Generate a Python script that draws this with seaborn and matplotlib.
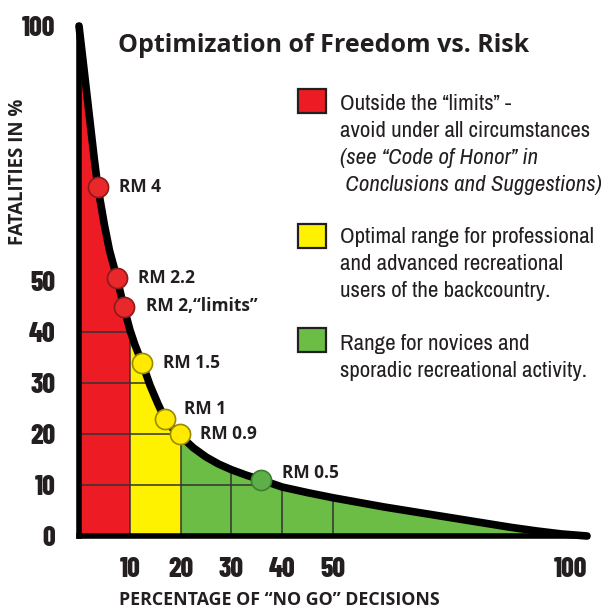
import numpy as np
import pandas as pd
import matplotlib.pyplot as plt
import seaborn as sns
from matplotlib.patches import Rectangle

# curve
no_go = [0, 1, 2, 3, 3.7, 5, 6, 7.5, 8.8, 10, 11, 12.4, 14, 15.5, 16.9, 18.5, 20,
         22.5, 25, 27.5, 30, 33, 35.9, 40, 45, 50, 55, 60, 65, 70, 75, 80, 85, 90, 95, 100]
fatalities = [100, 91.4, 82.7, 74, 68.5, 61, 56, 50.5, 45, 40.5, 37.5, 34, 29.5, 26, 23, 21, 19.6,
              17.3, 15.5, 14.1, 13, 11.9, 11, 9.6, 8.5, 7.5, 6.6, 5.7, 4.9, 4.1, 3.3, 2.5, 1.7, 1.0, 0.4, 0]

# RM points
rm_labels = ["RM 4", "RM 2.2", "RM 2,\u201climits\u201d", "RM 1.5", "RM 1", "RM 0.9", "RM 0.5"]
rm_x = [3.7, 7.5, 8.8, 12.4, 16.9, 19.8, 35.9]
rm_y = [68.5, 50.5, 45, 34, 23, 20, 11]
rm_zone = ["red", "red", "red", "yellow", "yellow", "yellow", "green"]

x_ticks = [10, 20, 30, 40, 50, 100]
y_ticks = [0, 10, 20, 30, 40, 50, 100]

legend_lines = {
    "red": ["Outside the \u201climits\u201d -", "avoid under all circumstances",
            "(see \u201cCode of Honor\u201d in", " Conclusions and Suggestions)"],
    "yellow": ["Optimal range for professional", "and advanced recreational",
               "users of the backcountry."],
    "green": ["Range for novices and", "sporadic recreational activity."],
}

fill_col = {"red": "#ED1C24", "yellow": "#FFF200", "green": "#6BBD45"}
dot_col = {"red": "#E8282B", "yellow": "#FFEA00", "green": "#5DAF47"}
dot_edge = {"red": "#8B1A1A", "yellow": "#9A8A00", "green": "#3F7F32"}

narrow = ["Archivo Narrow", "DejaVu Sans"]
tickfont = ["Barlow Condensed", "DejaVu Sans"]
dark = "#231F20"

df = pd.DataFrame({"no_go": no_go, "fatalities": fatalities})
pts = pd.DataFrame({"x": rm_x, "y": rm_y, "zone": rm_zone, "label": rm_labels})

sns.set_style("white")
fig = plt.figure(figsize=(6.01, 6.08), dpi=100)
W, H = 601, 608
ax = fig.add_axes([79 / W, 1 - 536 / H, (587 - 79) / W, (536 - 26) / H])

x = df["no_go"].to_numpy()
y = df["fatalities"].to_numpy()
ax.fill_between(x, y, where=x <= 10, color=fill_col["red"], lw=0)
ax.fill_between(x, y, where=(x >= 10) & (x <= 20), color=fill_col["yellow"], lw=0)
ax.fill_between(x, y, where=x >= 20, color=fill_col["green"], lw=0)

# inner grid, only under the curve
for gy in [10, 20, 30, 40]:
    gx = np.interp(gy, y[::-1], x[::-1])
    ax.plot([0, gx], [gy, gy], color="#333333", lw=1.3, alpha=0.85, zorder=2)
for gx in [10, 20, 30, 40, 50]:
    gy = np.interp(gx, x, y)
    ax.plot([gx, gx], [0, gy], color="#333333", lw=1.3, alpha=0.85, zorder=2)

sns.lineplot(data=df, x="no_go", y="fatalities", color="black", lw=5.5,
             ax=ax, zorder=3, clip_on=False, solid_capstyle="round")

for zone in ["red", "yellow", "green"]:
    sub = pts[pts["zone"] == zone]
    sns.scatterplot(data=sub, x="x", y="y", color=dot_col[zone], edgecolor=dot_edge[zone],
                    linewidth=1.2, s=210, ax=ax, zorder=4, clip_on=False)

offsets = [(15, 0), (15, 0), (16, 0), (15, 0), (14, 7), (15, 0), (15, 5)]
for (_, r), off in zip(pts.iterrows(), offsets):
    ax.annotate(r["label"], (r["x"], r["y"]), xytext=off, textcoords="offset points",
                ha="left", va="center", fontsize=12.5, fontweight="bold",
                family="Open Sans", color=dark, zorder=5)

ax.set_xlim(0, 100)
ax.set_ylim(0, 100)
for s in ["top", "right"]:
    ax.spines[s].set_visible(False)
for s in ["left", "bottom"]:
    ax.spines[s].set_linewidth(4)
    ax.spines[s].set_color("black")
    ax.spines[s].set_zorder(3)

ax.set_xticks(x_ticks)
ax.set_yticks(y_ticks)
ax.set_xticklabels([str(t) for t in x_ticks], family=tickfont, fontweight=800,
                   fontsize=20, color=dark)
ax.set_yticklabels([str(t) for t in y_ticks], family=tickfont, fontweight=800,
                   fontsize=20, color=dark)
ax.xaxis.get_majorticklabels()[-1].set_ha("right")
ax.tick_params(axis="x", length=10, width=1.5, color="#555555", pad=5, direction="out")
ax.tick_params(axis="y", length=9, width=1.5, color="#555555", pad=8, direction="out")
ax.xaxis.get_major_ticks()[-1].tick1line.set_visible(False)
yt = ax.yaxis.get_major_ticks()
yt[0].tick1line.set_visible(False)
yt[5].tick1line.set_visible(False)
yt[6].tick1line.set_color(dark)

ax.set_xlabel("PERCENTAGE OF \u201cNO GO\u201d DECISIONS", family="Open Sans",
              fontweight="bold", fontsize=12.8, color=dark, va="center")
ax.set_ylabel("FATALITIES IN %", family="Open Sans", fontweight="bold",
              fontsize=13.5, color=dark, va="center")
ax.xaxis.set_label_coords((279 - 79) / (587 - 79), -(600 - 536) / (536 - 26))
ax.yaxis.set_label_coords(-(79 - 18) / (587 - 79), (536 - 172) / (536 - 26))

fig.text(118 / W, 1 - 52 / H, "Optimization of Freedom vs. Risk", family="Open Sans",
         fontweight="bold", fontsize=18, color=dark, va="baseline")

# legend
box_top = {"red": 89, "yellow": 224, "green": 328}
first_base = {"red": 110, "yellow": 243, "green": 350}
for zone in ["red", "yellow", "green"]:
    fig.patches.append(Rectangle((298 / W, 1 - (box_top[zone] + 24) / H), 28 / W, 24 / H,
                                 transform=fig.transFigure, facecolor=fill_col[zone],
                                 edgecolor=dark, lw=1.6))
    for i, line in enumerate(legend_lines[zone]):
        style = "italic" if (zone == "red" and i >= 2) else "normal"
        fig.text(340 / W, 1 - (first_base[zone] + 27 * i) / H, line, family=narrow,
                 fontsize=16.5, style=style, color=dark, va="baseline")

fig.savefig("out.png", dpi=100)
